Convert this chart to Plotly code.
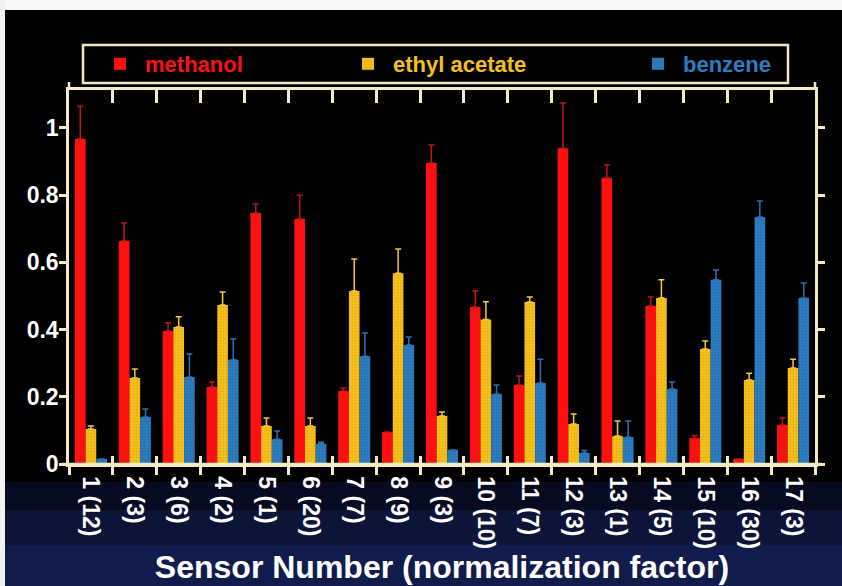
import plotly.graph_objects as go

sensors = ["1 (12)", "2 (3)", "3 (6)", "4 (2)", "5 (1)", "6 (20)", "7 (7)", "8 (9)", "9 (3)",
           "10 (10)", "11 (7)", "12 (3)", "13 (1)", "14 (5)", "15 (10)", "16 (30)", "17 (3)"]

methanol = [0.967, 0.664, 0.396, 0.229, 0.747, 0.729, 0.217, 0.095, 0.896,
            0.467, 0.235, 0.940, 0.851, 0.470, 0.077, 0.015, 0.116]
methanol_err = [0.098, 0.053, 0.024, 0.015, 0.027, 0.071, 0.009, 0.0, 0.053,
                0.048, 0.027, 0.134, 0.039, 0.027, 0.008, 0.0, 0.021]

ethyl_acetate = [0.104, 0.256, 0.408, 0.473, 0.113, 0.113, 0.515, 0.568, 0.143,
                 0.430, 0.482, 0.119, 0.083, 0.494, 0.342, 0.250, 0.286]
ethyl_acetate_err = [0.009, 0.027, 0.030, 0.039, 0.024, 0.024, 0.095, 0.072, 0.012,
                     0.053, 0.015, 0.030, 0.045, 0.054, 0.024, 0.020, 0.026]

benzene = [0.015, 0.140, 0.259, 0.310, 0.074, 0.060, 0.321, 0.354, 0.042,
           0.208, 0.241, 0.033, 0.080, 0.223, 0.548, 0.735, 0.494]
benzene_err = [0.0, 0.024, 0.068, 0.062, 0.024, 0.005, 0.069, 0.024, 0.0,
               0.027, 0.071, 0.007, 0.048, 0.021, 0.029, 0.048, 0.045]

y_ticks = [0, 0.2, 0.4, 0.6, 0.8, 1]
y_tick_text = ["0", "0.2", "0.4", "0.6", "0.8", "1"]

FONT = "Liberation Sans, Arial, Helvetica, sans-serif"
AXIS = "#f3ebc4"
RED, YEL, BLU = "#ff1010", "#f4c11c", "#2c7dc0"

fig = go.Figure()
series = [
    ("methanol", methanol, methanol_err, RED, "#c41414", "legend", None),
    ("ethyl acetate", ethyl_acetate, ethyl_acetate_err, YEL, "#f5c93a", "legend2", "#d99a10"),
    ("benzene", benzene, benzene_err, BLU, "#2f6fb3", "legend3", "#1f5f9c"),
]
for name, vals, errs, col, ecol, leg, pat in series:
    marker = dict(color=col, line=dict(width=0))
    if pat:
        marker["pattern"] = dict(shape=".", size=3, solidity=0.25, fgcolor=pat, fgopacity=0.6)
    fig.add_trace(go.Bar(
        x=sensors, y=vals, name=name, marker=marker, legend=leg,
        error_y=dict(type="data", array=errs, arrayminus=[0] * len(errs), symmetric=False,
                     color=ecol, thickness=1.5, width=3),
    ))

# tick positions at category boundaries for the top / inner-bottom tick axes
bounds = [i + 0.5 for i in range(len(sensors) + 1)]

fig.update_layout(
    width=842, height=586,
    paper_bgcolor="#000000", plot_bgcolor="#000000",
    margin=dict(l=69, r=27, t=90, b=122, autoexpand=False),
    barmode="group", bargap=0.27, bargroupgap=0.0,
    font=dict(family=FONT, color="white", size=22, weight="bold"),
    xaxis=dict(
        type="category", categoryarray=sensors, range=[-0.5, 16.5],
        showline=True, linecolor=AXIS, linewidth=2.5,
        ticks="outside", tickson="boundaries", ticklen=8, tickwidth=2.5, tickcolor=AXIS,
        tickangle=90, ticklabelstandoff=5,
        tickfont=dict(size=23, color="white", family=FONT, weight="bold"),
        showgrid=False, zeroline=False, automargin=False,
        title=dict(text="Sensor Number (normalization factor)", standoff=8,
                   font=dict(size=32, color="white", family=FONT, weight="bold")),
    ),
    xaxis2=dict(
        overlaying="x", side="top", anchor="y", range=[0.5, 17.5],
        showline=True, linecolor=AXIS, linewidth=2.5,
        ticks="inside", tickvals=bounds, ticklen=13, tickwidth=2.5, tickcolor=AXIS,
        showticklabels=False, showgrid=False, zeroline=False,
    ),
    xaxis3=dict(
        overlaying="x", side="bottom", anchor="y", range=[0.5, 17.5],
        showline=False,
        ticks="inside", tickvals=bounds, ticklen=8, tickwidth=2.5, tickcolor=AXIS,
        showticklabels=False, showgrid=False, zeroline=False,
    ),
    yaxis=dict(
        range=[0, 1.113], showline=True, linecolor=AXIS, linewidth=2.5,
        ticks="", tickvals=y_ticks, ticktext=y_tick_text, ticklabelstandoff=3,
        tickfont=dict(size=23, color="white", family=FONT, weight="bold"),
        showgrid=False, zeroline=False, automargin=False,
    ),
    yaxis2=dict(
        overlaying="y", side="left", anchor="x", range=[0, 1.113],
        showline=True, linecolor=AXIS, linewidth=2.5, mirror="ticks",
        ticks="outside", ticklen=7, tickwidth=2.5, tickcolor=AXIS,
        tickvals=y_ticks, showticklabels=False, showgrid=False, zeroline=False,
    ),
    legend=dict(orientation="h", x=0.0349, xanchor="left", y=1.0695, yanchor="middle",
                bgcolor="rgba(0,0,0,0)", borderwidth=0, itemwidth=40,
                font=dict(size=22, color=RED, family=FONT, weight="bold")),
    legend2=dict(orientation="h", x=0.3673, xanchor="left", y=1.0695, yanchor="middle",
                 bgcolor="rgba(0,0,0,0)", borderwidth=0, itemwidth=40,
                 font=dict(size=22, color=YEL, family=FONT, weight="bold")),
    legend3=dict(orientation="h", x=0.756, xanchor="left", y=1.0695, yanchor="middle",
                 bgcolor="rgba(0,0,0,0)", borderwidth=0, itemwidth=40,
                 font=dict(size=22, color=BLU, family=FONT, weight="bold")),
    showlegend=True,
)

# invisible traces to activate the overlay tick axes
fig.add_trace(go.Scatter(x=[1], y=[0], xaxis="x2", mode="markers", marker=dict(opacity=0),
                         showlegend=False, hoverinfo="skip"))
fig.add_trace(go.Scatter(x=[1], y=[0], xaxis="x3", mode="markers", marker=dict(opacity=0),
                         showlegend=False, hoverinfo="skip"))
fig.add_trace(go.Scatter(x=[sensors[0]], y=[0], yaxis="y2", mode="markers", marker=dict(opacity=0),
                         showlegend=False, hoverinfo="skip"))


def px(x):
    return (x - 69) / 746.0


def py(y):
    return (464 - y) / 374.0


shapes = [
    # navy lower band (gradient-ish)
    dict(type="rect", xref="paper", yref="paper", x0=px(-5), x1=px(850), y0=py(600), y1=py(545),
         fillcolor="#111b4c", line=dict(width=0), layer="below"),
    dict(type="rect", xref="paper", yref="paper", x0=px(-5), x1=px(850), y0=py(545), y1=py(510),
         fillcolor="#0c1438", line=dict(width=0), layer="below"),
    dict(type="rect", xref="paper", yref="paper", x0=px(-5), x1=px(850), y0=py(510), y1=py(482),
         fillcolor="#070b22", line=dict(width=0), layer="below"),
    # white borders of the scanned figure
    dict(type="rect", xref="paper", yref="paper", x0=px(-5), x1=px(850), y0=py(10), y1=py(-5),
         fillcolor="#f7f7f7", line=dict(width=0), layer="below"),
    dict(type="rect", xref="paper", yref="paper", x0=px(-5), x1=px(5), y0=py(600), y1=py(-5),
         fillcolor="#f2f2f2", line=dict(width=0), layer="below"),
    # legend frame
    dict(type="rect", xref="paper", yref="paper", x0=px(83), x1=px(788), y0=py(83), y1=py(45),
         fillcolor="rgba(0,0,0,0)", line=dict(color=AXIS, width=2.5)),
    # axis line overhangs
    dict(type="line", xref="paper", yref="paper", x0=0, x1=0, y0=1, y1=py(82),
         line=dict(color=AXIS, width=2.5)),
    dict(type="line", xref="paper", yref="paper", x0=1, x1=1, y0=1, y1=py(82),
         line=dict(color=AXIS, width=2.5)),
    dict(type="line", xref="paper", yref="paper", x0=px(62), x1=px(822), y0=0, y1=0,
         line=dict(color=AXIS, width=2.5)),
]
fig.update_layout(shapes=shapes)

fig.write_html("out.html", config={"displayModeBar": False},
               post_script="document.body.style.margin='0px';document.body.style.overflow='hidden';")
